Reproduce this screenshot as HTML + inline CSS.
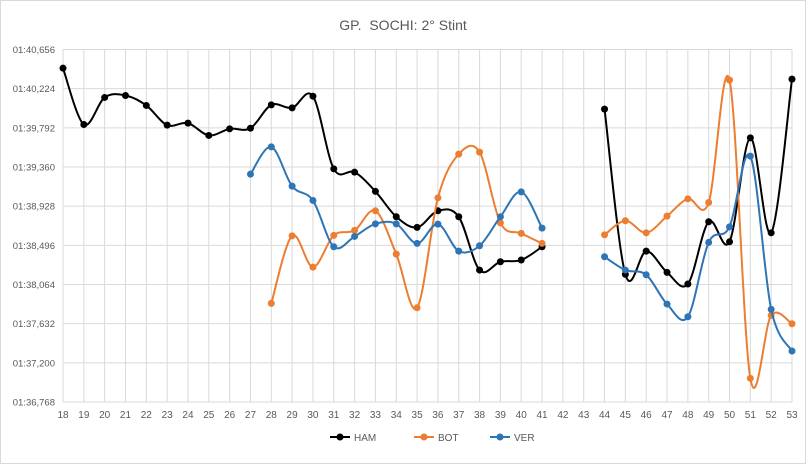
<!DOCTYPE html>
<html><head><meta charset="utf-8"><style>
html,body{margin:0;padding:0;background:#fff;}
svg{display:block;font-family:"Liberation Sans",sans-serif;}
</style></head><body>
<svg id="chart" width="806" height="464">
<rect x="0.5" y="0.5" width="805" height="463" fill="#fff" stroke="#d9d9d9"/>
<text x="403" y="30" text-anchor="middle" font-size="14" fill="#595959">GP.&#160; SOCHI: 2° Stint</text>
<g id="grid"></g><g id="series"></g><g id="axes"></g>
<g id="legend"></g>
</svg>
<script>
const laps=[];for(let l=18;l<=53;l++)laps.push(String(l));
const yTicks=[96.768,97.200,97.632,98.064,98.496,98.928,99.360,99.792,100.224,100.656];
const yTickLabels=["01:36,768","01:37,200","01:37,632","01:38,064","01:38,496","01:38,928","01:39,360","01:39,792","01:40,224","01:40,656"];
const ham=[100.450,99.829,100.127,100.149,100.039,99.822,99.844,99.708,99.781,99.788,100.045,100.012,100.141,99.340,99.303,99.091,98.811,98.694,98.877,98.811,98.223,98.315,98.334,98.480,null,null,99.998,98.176,98.432,98.198,98.069,98.756,98.535,99.681,98.634,100.329];
const bot=[null,null,null,null,null,null,null,null,null,null,97.856,98.601,98.256,98.606,98.661,98.877,98.399,97.807,99.020,99.502,99.524,98.744,98.628,98.517,null,null,98.612,98.767,98.634,98.818,99.009,98.969,100.318,97.029,97.724,97.631];
const ver=[null,null,null,null,null,null,null,null,null,99.281,99.582,99.149,98.991,98.480,98.594,98.733,98.733,98.517,98.730,98.432,98.491,98.811,99.086,98.686,null,null,98.370,98.223,98.171,97.848,97.708,98.528,98.700,99.480,97.790,97.330];
const seriesNames=["HAM","BOT","VER"];
const seriesColors=["#000000","#ed7d31","#2e75b6"];

const NS="http://www.w3.org/2000/svg";
const X0=63,X1=792,Y0=402,Y1=49.5,VMIN=96.768,VMAX=100.656;
const xs=i=>X0+(X1-X0)*i/(laps.length-1);
const ys=v=>Y0-(v-VMIN)/(VMAX-VMIN)*(Y0-Y1);
function mk(t,a,p){const e=document.createElementNS(NS,t);for(const k in a)e.setAttribute(k,a[k]);p.appendChild(e);return e;}
const grid=document.getElementById('grid'),axes=document.getElementById('axes'),ser=document.getElementById('series'),leg=document.getElementById('legend');
yTicks.forEach((v,i)=>{
 const l=mk('line',{x1:X0,x2:X1,y1:ys(v),y2:ys(v),stroke:'#d9d9d9','stroke-width':1},grid);
 
 
 const t=mk('text',{x:55,y:ys(v)+3.5,'text-anchor':'end','font-size':9.5,fill:'#595959'},axes);
 t.textContent=yTickLabels[i];
 
 
});
laps.forEach((c,i)=>{
 const l=mk('line',{x1:xs(i),x2:xs(i),y1:Y1,y2:Y0,stroke:'#d9d9d9','stroke-width':1},grid);
 
 
 const t=mk('text',{x:xs(i),y:418,'text-anchor':'middle','font-size':10,fill:'#595959'},axes);
 t.textContent=c;
 
 
});
function smooth(pts){
 let d=`M${pts[0][0]},${pts[0][1]}`;
 for(let i=0;i<pts.length-1;i++){
  const p0=pts[i-1]||pts[i],p1=pts[i],p2=pts[i+1],p3=pts[i+2]||p2;
  const c1=[p1[0]+(p2[0]-p0[0])/6,p1[1]+(p2[1]-p0[1])/6],c2=[p2[0]-(p3[0]-p1[0])/6,p2[1]-(p3[1]-p1[1])/6];
  d+=`C${c1[0]},${c1[1]} ${c2[0]},${c2[1]} ${p2[0]},${p2[1]}`;
 }
 return d;
}
[ham,bot,ver].forEach((arr,si)=>{
 const col=seriesColors[si];
 let segs=[],cur=[];
 arr.forEach((v,i)=>{if(v==null){if(cur.length)segs.push(cur);cur=[];}else cur.push([xs(i),ys(v)]);});
 if(cur.length)segs.push(cur);
 segs.forEach(s=>{
  const p=mk('path',{d:smooth(s),fill:'none',stroke:col,'stroke-width':2},ser);
  
  
 });
 arr.forEach((v,i)=>{if(v==null)return;
  const c=mk('circle',{cx:xs(i),cy:ys(v),r:3.5,fill:col},ser);
  
  
 });
});
const lx=[330,414,490];
seriesNames.forEach((n,i)=>{
 const l=mk('line',{x1:lx[i],x2:lx[i]+20,y1:437,y2:437,stroke:seriesColors[i],'stroke-width':2},leg);
 
 
 const c=mk('circle',{cx:lx[i]+10,cy:437,r:3.5,fill:seriesColors[i]},leg);
 
 
 const t=mk('text',{x:lx[i]+24,y:441,'font-size':10,fill:'#595959'},leg);
 t.textContent=n;
 
 
});
</script>
</body></html>
